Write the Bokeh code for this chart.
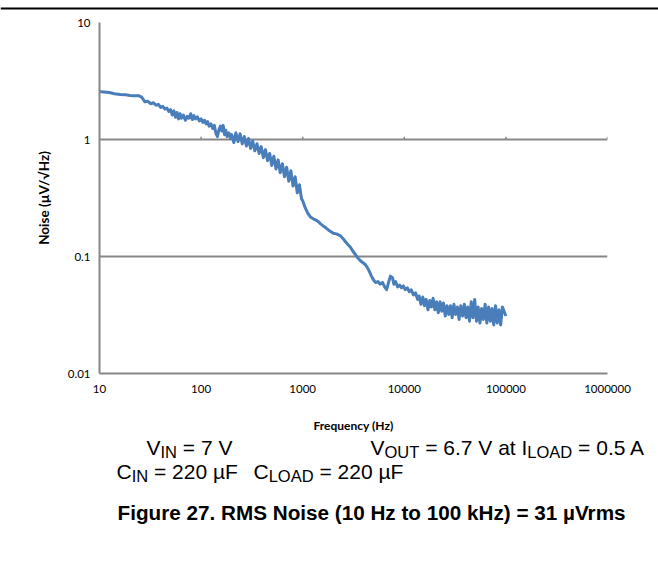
from bokeh.plotting import figure
from bokeh.layouts import column
from bokeh.models import FixedTicker, CustomJSTickFormatter, Label, Range1d
from bokeh.embed import file_html
from bokeh.resources import INLINE

# ---------------- data ----------------
freq_a = [10, 11, 12.5, 14, 16, 18, 20, 22, 24.5, 26,
          28, 30, 32, 34, 36, 38, 40, 42, 44, 46,
          48, 50, 52, 54, 56, 58, 60, 62, 64, 67,
          70, 73, 76, 79, 82, 85, 88, 92, 96, 100,
          104, 108, 112, 116, 120, 125, 130, 135, 140, 145,
          150, 155, 160, 165, 170, 175, 180, 188, 195]
noise_a = [2.57, 2.55, 2.52, 2.46, 2.43, 2.41, 2.38, 2.37, 2.36, 2.30,
           2.10, 2.12, 2.02, 2.06, 1.96, 2.00, 1.88, 1.92, 1.82, 1.86,
           1.74, 1.80, 1.62, 1.76, 1.55, 1.70, 1.50, 1.66, 1.52, 1.62,
           1.46, 1.58, 1.52, 1.66, 1.48, 1.60, 1.50, 1.56, 1.44, 1.50,
           1.40, 1.46, 1.36, 1.42, 1.30, 1.36, 1.24, 1.32, 1.12, 1.06,
           1.22, 1.30, 1.18, 1.32, 1.10, 1.20, 1.06, 1.14, 1.02]

freq_b = [200, 210, 220, 231, 242, 254, 266, 279, 293, 307,
          322, 338, 355, 372, 390, 410, 430, 451, 473, 496,
          520, 546, 573, 601, 631, 662, 695, 729, 765, 803,
          843, 884, 928, 974, 1000]
noise_b = [1.10, 0.94, 1.14, 0.96, 1.12, 0.92, 1.06, 0.88, 1.02, 0.84,
           0.97, 0.80, 0.92, 0.76, 0.87, 0.70, 0.82, 0.66, 0.76, 0.60,
           0.72, 0.56, 0.67, 0.52, 0.62, 0.48, 0.58, 0.44, 0.54, 0.40,
           0.48, 0.35, 0.41, 0.31, 0.30]

freq_c = [1060, 1120, 1190, 1270, 1350, 1430, 1500, 1600, 1700, 1800,
          1900, 2000, 2150, 2360, 2500, 2650, 2800, 2950, 3100, 3300,
          3460, 3700, 3950, 4150, 4340, 4550, 4750, 4980, 5200, 5500,
          5800, 6100, 6400, 6700, 7000, 7300, 7650, 7900, 8200, 8600,
          9000, 9400, 9800, 10200, 10700, 11200, 11700, 12300, 12900, 13500]
noise_c = [0.26, 0.235, 0.218, 0.21, 0.205, 0.198, 0.19, 0.182, 0.175, 0.168,
           0.163, 0.158, 0.156, 0.150, 0.142, 0.133, 0.126, 0.120, 0.112, 0.104,
           0.098, 0.092, 0.088, 0.085, 0.080, 0.074, 0.068, 0.063, 0.060, 0.061,
           0.058, 0.060, 0.055, 0.052, 0.060, 0.068, 0.066, 0.058, 0.061, 0.055,
           0.057, 0.054, 0.056, 0.052, 0.054, 0.050, 0.052, 0.047, 0.049, 0.043]

freq_d = [14000, 14600, 15200, 15800, 16400, 17100, 17800, 18500, 19200, 20000,
          20800, 21600, 22500, 23400, 24300, 25300, 26300, 27400, 28500, 29600,
          30800, 32000, 33300, 34600, 36000, 37500, 39000, 40500, 42100, 43800,
          45600, 47400, 49300, 51300, 53300, 55500, 57700, 60000, 62400, 64900,
          67500, 70200, 73000, 75900, 79000, 82100, 85400, 88800, 92400, 100000]
noise_d = [0.046, 0.039, 0.045, 0.038, 0.043, 0.035, 0.042, 0.037, 0.044, 0.035,
           0.041, 0.033, 0.041, 0.034, 0.040, 0.031, 0.038, 0.032, 0.038, 0.030,
           0.039, 0.032, 0.037, 0.029, 0.038, 0.031, 0.039, 0.030, 0.037, 0.028,
           0.041, 0.030, 0.043, 0.028, 0.037, 0.027, 0.036, 0.029, 0.039, 0.027,
           0.037, 0.028, 0.036, 0.026, 0.038, 0.027, 0.035, 0.026, 0.037, 0.031]

freq_hz = freq_a + freq_b + freq_c + freq_d
noise_uv = noise_a + noise_b + noise_c + noise_d

x_ticks = [10, 100, 1000, 10000, 100000, 1000000]
x_tick_labels = ["10", "100", "1000", "10000", "100000", "1000000"]
y_ticks = [0.01, 0.1, 1, 10]
y_tick_labels = ["0.01", "0.1", "1", "10"]
grid_levels = [0.1, 1, 10]
axis_cross_level = [1, 1, 1, 1, 1]
axis_cross_tick_top = [1.055, 1.055, 1.055, 1.055, 1.055]

# ---------------- layout ----------------
W, H = 658, 575
TOP_H = 14            # strip holding the page rule
MAIN_H = 422          # chart canvas (page y 14 .. 436)
BOT_H = H - TOP_H - MAIN_H
FL, FW = 99, 508      # frame left / width
FT_PAGE, FH = 22, 351 # frame top (page) / height
GRAY = "#878787"
BLUE = "#4a7ebb"


def blank_fig(h):
    f = figure(width=W, height=h, x_range=Range1d(0, W), y_range=Range1d(h, 0),
               output_backend="svg", toolbar_location=None, frame_align=False,
               min_border=0, min_border_left=0, min_border_right=0,
               min_border_top=0, min_border_bottom=0)
    f.axis.visible = False
    f.grid.visible = False
    f.outline_line_color = None
    f.background_fill_color = "white"
    f.border_fill_color = "white"
    return f


# top strip with the page rule
top = blank_fig(TOP_H)
top.quad(left=[0], right=[W], top=[7], bottom=[9], fill_color="black", line_color=None)

# main chart
p = figure(width=W, height=MAIN_H,
           x_axis_type="log", y_axis_type="log",
           x_range=Range1d(10, 1e6), y_range=Range1d(0.01, 10),
           output_backend="svg", toolbar_location=None, frame_align=False,
           min_border_left=FL, min_border_right=W - FL - FW,
           min_border_top=FT_PAGE - TOP_H,
           min_border_bottom=MAIN_H - (FT_PAGE - TOP_H) - FH)
p.outline_line_color = None
p.background_fill_color = "white"
p.border_fill_color = "white"

fmt_code = """
const i = vals.findIndex(v => Math.abs(Math.log10(v) - Math.log10(tick)) < 1e-6);
return i >= 0 ? labs[i] : '';
"""

xa = p.xaxis[0]
xa.ticker = FixedTicker(ticks=x_ticks)
xa.formatter = CustomJSTickFormatter(args=dict(vals=x_ticks, labs=x_tick_labels), code=fmt_code)
xa.major_tick_line_color = None
xa.minor_tick_line_color = None
xa.axis_line_color = GRAY
xa.axis_line_width = 2
xa.major_label_text_font = "Lato"
xa.major_label_text_font_size = "11.5px"
xa.major_label_text_color = "#000000"
xa.major_label_standoff = 5
xa.axis_label = "Frequency (Hz)"
xa.axis_label_text_font = "Lato"
xa.axis_label_text_font_style = "bold"
xa.axis_label_text_font_size = "12px"
xa.axis_label_text_color = "#000000"
xa.axis_label_standoff = 22

ya = p.yaxis[0]
ya.ticker = FixedTicker(ticks=y_ticks)
ya.formatter = CustomJSTickFormatter(args=dict(vals=y_ticks, labs=y_tick_labels), code=fmt_code)
ya.major_tick_line_color = None
ya.minor_tick_line_color = None
ya.axis_line_color = GRAY
ya.axis_line_width = 2
ya.major_label_text_font = "Lato"
ya.major_label_text_font_size = "11.5px"
ya.major_label_text_color = "#000000"
ya.major_label_standoff = 3
ya.axis_label = "Noise (µV/√Hz)"
ya.axis_label_text_font = "Lato"
ya.axis_label_text_font_style = "bold"
ya.axis_label_text_font_size = "13.5px"
ya.axis_label_text_color = "#000000"
ya.axis_label_standoff = 13

p.xgrid.visible = False
p.ygrid.ticker = FixedTicker(ticks=grid_levels)
p.ygrid.grid_line_color = GRAY
p.ygrid.grid_line_width = 2

# small tick marks where the horizontal axis crosses at 1
p.segment(x0=x_ticks[1:], y0=axis_cross_level, x1=x_ticks[1:], y1=axis_cross_tick_top,
          line_color=GRAY, line_width=1.5)

p.line(freq_hz, noise_uv, line_color=BLUE, line_width=3, line_join="round")

# ---------------- text below the chart ----------------
bot = blank_fig(BOT_H)
BOT_Y0 = TOP_H + MAIN_H   # page y of the top of this strip

ARIAL = {' ': 278, '=': 584, '.': 278, 'V': 667, 'I': 278, 'N': 722, 'C': 722,
         'O': 778, 'U': 722, 'T': 611, 'L': 556, 'A': 667, 'D': 722, 'a': 556,
         't': 278, 'µ': 576, 'F': 611}
for d in "0123456789":
    ARIAL[d] = 556


def tw(s, size):
    return sum(ARIAL.get(c, 556) for c in s) * size / 1000.0


def add_text(text, px, py, size, bold=False):
    bot.add_layout(Label(x=px, y=py - BOT_Y0, text=text, text_font="Liberation Sans",
                         text_font_size=f"{size}px",
                         text_font_style="bold" if bold else "normal",
                         text_color="#000000", text_baseline="alphabetic",
                         text_align="left"))


def add_rich(parts, px, py, size=21, sub_size=16.5, sub_drop=4):
    x = px
    for s, sub in parts:
        fs = sub_size if sub else size
        body = s.lstrip(" ")
        x += tw(s[:len(s) - len(body)], fs)
        add_text(body, x, py + (sub_drop if sub else 0), fs)
        x += tw(body, fs)


add_rich([("V", False), ("IN", True), (" = 7 V", False)], 146, 447)
add_rich([("V", False), ("OUT", True), (" = 6.7 V at I", False), ("LOAD", True), (" = 0.5 A", False)], 370, 447)
add_rich([("C", False), ("IN", True), (" = 220 µF", False)], 116, 471)
add_rich([("C", False), ("LOAD", True), (" = 220 µF", False)], 253, 471)
add_text("Figure 27. RMS Noise (10 Hz to 100 kHz) = 31 µVrms", 117, 512, 20.7, bold=True)

layout = column(top, p, bot, spacing=0)
open("out.html", "w").write(file_html(layout, INLINE))
